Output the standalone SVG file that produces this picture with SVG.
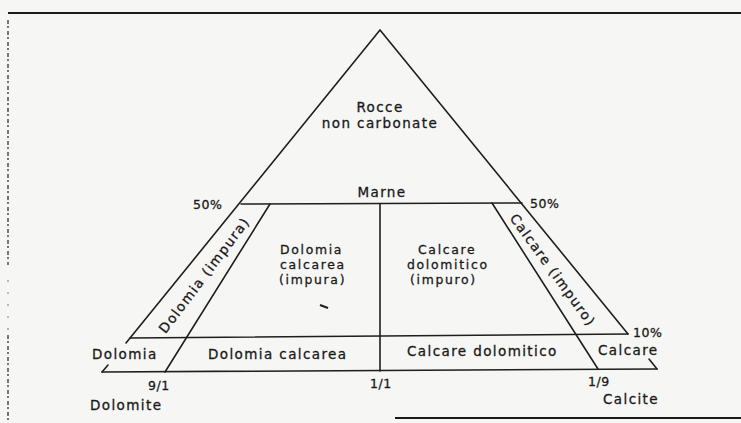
<svg xmlns="http://www.w3.org/2000/svg" width="741" height="423" viewBox="0 0 741 423">
<style>
  .ln { stroke:#1e1e1e; stroke-width:1.6; fill:none; stroke-linecap:round; }
  .t { font-family:"DejaVu Sans","Liberation Sans",sans-serif; font-size:13.5px; letter-spacing:1.4px; fill:#1a1a1a; stroke:#1a1a1a; stroke-width:0.3; }
  .m { font-family:"DejaVu Sans","Liberation Sans",sans-serif; font-size:12.4px; letter-spacing:1.7px; fill:#1a1a1a; stroke:#1a1a1a; stroke-width:0.3; }
  .s { font-family:"DejaVu Sans","Liberation Sans",sans-serif; font-size:12.5px; letter-spacing:0.6px; fill:#1a1a1a; stroke:#1a1a1a; stroke-width:0.3; }
</style>
<rect x="0" y="0" width="741" height="423" fill="#f6f6f4"/>
<g id="frame">
  <line x1="8" y1="13" x2="741" y2="13" stroke="#1a1a1a" stroke-width="2.2"/>
  <line x1="8" y1="20" x2="8" y2="265" stroke="#333" stroke-width="1.3" stroke-dasharray="4 2 2 3"/>
  <line x1="8" y1="280" x2="8" y2="330" stroke="#777" stroke-width="1" stroke-dasharray="2 10"/>
  <line x1="8" y1="335" x2="8" y2="423" stroke="#333" stroke-width="1.3" stroke-dasharray="4 2 2 3"/>
  <line x1="395" y1="418" x2="741" y2="418" stroke="#1a1a1a" stroke-width="2.2"/>
</g>
<g id="connectors">
  <path class="ln" d="M126,343 L380,30 L628,334"/>
  <line class="ln" x1="108" y1="365" x2="102" y2="372"/>
  <line class="ln" x1="649" y1="359" x2="657" y2="369"/>
  <line class="ln" x1="102" y1="372" x2="657" y2="369"/>
  <line class="ln" x1="130" y1="338" x2="628" y2="334"/>
  <line class="ln" x1="241" y1="204" x2="522" y2="203"/>
  <line class="ln" x1="270" y1="204" x2="165" y2="372"/>
  <line class="ln" x1="492" y1="203" x2="598" y2="369"/>
  <line class="ln" x1="380" y1="204" x2="380" y2="371"/>
  <line x1="320" y1="305" x2="328" y2="308" stroke="#1e1e1e" stroke-width="2"/>
</g>
<g id="rocce-non-carbonate">
  <text class="t" x="380" y="112" text-anchor="middle">Rocce</text>
  <text class="t" x="380" y="128" text-anchor="middle">non carbonate</text>
</g>
<g id="marne">
  <text class="t" x="382" y="197" text-anchor="middle">Marne</text>
  <text class="s" x="193" y="209">50%</text>
  <text class="s" x="530" y="208">50%</text>
</g>
<g id="dolomia-impura">
  <text class="t" x="204" y="275" text-anchor="middle" dominant-baseline="central" transform="rotate(-53 204 275)">Dolomia (impura)</text>
</g>
<g id="calcare-impuro">
  <text class="t" x="553" y="270" text-anchor="middle" dominant-baseline="central" transform="rotate(54 553 270)">Calcare (impuro)</text>
</g>
<g id="dolomia-calcarea-impura">
  <text class="m" x="280" y="254">Dolomia</text>
  <text class="m" x="280" y="269">calcarea</text>
  <text class="m" x="279" y="284">(impura)</text>
</g>
<g id="calcare-dolomitico-impuro">
  <text class="m" x="418" y="254">Calcare</text>
  <text class="m" x="407" y="269">dolomitico</text>
  <text class="m" x="410" y="284">(impuro)</text>
</g>
<g id="dolomia">
  <text class="t" x="92" y="359">Dolomia</text>
</g>
<g id="dolomia-calcarea">
  <text class="t" x="208" y="359">Dolomia calcarea</text>
</g>
<g id="calcare-dolomitico">
  <text class="t" x="407" y="356">Calcare dolomitico</text>
</g>
<g id="calcare">
  <text class="t" x="598" y="355">Calcare</text>
  <text class="s" x="633" y="337">10%</text>
</g>
<g id="axis">
  <text class="s" x="148" y="390">9/1</text>
  <text class="s" x="370" y="388">1/1</text>
  <text class="s" x="588" y="386">1/9</text>
  <text class="t" x="90" y="410">Dolomite</text>
  <text class="t" x="603" y="404">Calcite</text>
</g>
</svg>
